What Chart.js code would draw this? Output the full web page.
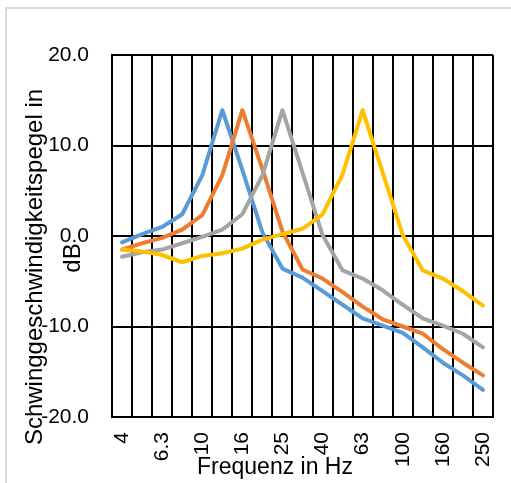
<!DOCTYPE html>
<html>
<head>
<meta charset="utf-8">
<script src="https://cdn.jsdelivr.net/npm/chart.js@4.4.1/dist/chart.umd.min.js"></script>
<style>
    html, body { margin: 0; padding: 0; background: #fff; }
    #wrap { position: relative; width: 511px; height: 483px; overflow: hidden; }
    #frame { position: absolute; left: 5px; top: 7px; width: 600px; height: 600px; border: 2px solid #d9d9d9; }
    #chart { position: absolute; left: 0; top: 0; }
</style>
</head>
<body>
<div id="wrap">
    <div id="frame"></div>
    <canvas id="chart" width="511" height="483"></canvas>
</div>
<script>
//data

const freqLabels = ['4', '5', '6.3', '8', '10', '12.5', '16', '20', '25', '31.5', '40', '50', '63', '80', '100', '125', '160', '200', '250'];

const seriesBlue = [-0.7, 0.2, 1.0, 2.4, 6.7, 13.9, 7.3, 0.4, -3.6, -4.6, -6.1, -7.6, -9.1, -9.9, -10.7, -12.3, -14.0, -15.4, -17.0];
const seriesOrange = [-1.5, -0.8, -0.2, 0.7, 2.3, 6.7, 13.9, 7.4, 0.5, -3.7, -4.7, -6.2, -7.8, -9.2, -10.0, -10.8, -12.5, -14.0, -15.4];
const seriesGray = [-2.3, -1.8, -1.5, -0.8, -0.1, 0.7, 2.4, 6.7, 13.9, 7.0, 0.1, -3.8, -4.7, -6.0, -7.6, -9.1, -9.9, -10.8, -12.3];
const seriesYellow = [-1.5, -1.7, -2.1, -2.9, -2.2, -1.9, -1.4, -0.4, 0.2, 0.8, 2.4, 6.8, 13.9, 7.0, 0.1, -3.8, -4.7, -6.1, -7.7];

const yTitleLines = ['Schwinggeschwindigkeitspegel in', 'dB'];
const xTitle = 'Frequenz in Hz';

//colors
const colorBlue = '#5B9BD5';
const colorOrange = '#ED7D31';
const colorGray = '#A5A5A5';
const colorYellow = '#FFC000';
const fontFamily = "'Liberation Sans', Arial, sans-serif";

//axis titles are placed by hand like in the original sheet
const axisTitles = {
    id: 'axisTitles',
    afterDraw(chart) {
        const ctx = chart.ctx;
        ctx.save();
        ctx.fillStyle = '#000';
        ctx.font = '24px ' + fontFamily;
        ctx.textAlign = 'center';
        ctx.textBaseline = 'alphabetic';

        ctx.save();
        ctx.translate(42, 267);
        ctx.rotate(-Math.PI / 2);
        ctx.fillText(yTitleLines[0], 0, 0);
        ctx.restore();

        ctx.save();
        ctx.translate(80, 258);
        ctx.rotate(-Math.PI / 2);
        ctx.fillText(yTitleLines[1], 0, 0);
        ctx.restore();

        ctx.font = '23px ' + fontFamily;
        ctx.fillText(xTitle, 275, 474);
        ctx.restore();
    }
};

const makeLine = (data, color, order) => ({
    data: data,
    borderColor: color,
    backgroundColor: color,
    borderWidth: 4,
    pointRadius: 0,
    tension: 0,
    fill: false,
    borderCapStyle: 'round',
    borderJoinStyle: 'round',
    order: order
});

new Chart(document.getElementById('chart'), {
    type: 'line',
    data: {
        labels: freqLabels,
        datasets: [
            makeLine(seriesBlue, colorBlue, 3),
            makeLine(seriesOrange, colorOrange, 2),
            makeLine(seriesGray, colorGray, 1),
            makeLine(seriesYellow, colorYellow, 0)
        ]
    },
    options: {
        responsive: false,
        animation: false,
        layout: { padding: { left: 0, right: 18, top: 55, bottom: 0 } },
        plugins: {
            legend: { display: false },
            tooltip: { enabled: false }
        },
        scales: {
            x: {
                offset: true,
                grid: { offset: true, color: '#000', lineWidth: 2, drawTicks: false },
                border: { display: true, color: '#000', width: 2 },
                ticks: {
                    autoSkip: false,
                    maxRotation: 90,
                    minRotation: 90,
                    padding: 15,
                    color: '#000',
                    font: { family: fontFamily, size: 21 },
                    callback: function (value, index) {
                        return index % 2 === 0 ? freqLabels[index] : '';
                    }
                },
                afterFit: (scale) => {
                    scale.height = 66;
                    scale.paddingLeft = 0;
                    scale.paddingRight = 0;
                }
            },
            y: {
                min: -20,
                max: 20,
                grid: { color: '#000', lineWidth: 2, drawTicks: false },
                border: { display: true, color: '#000', width: 2 },
                ticks: {
                    stepSize: 10,
                    padding: 23,
                    color: '#000',
                    font: { family: fontFamily, size: 21 },
                    callback: (value) => Number(value).toFixed(1)
                },
                afterFit: (scale) => {
                    scale.width = 112;
                    scale.paddingTop = 0;
                    scale.paddingBottom = 0;
                }
            }
        }
    },
    plugins: [axisTitles]
});
</script>
</body>
</html>
